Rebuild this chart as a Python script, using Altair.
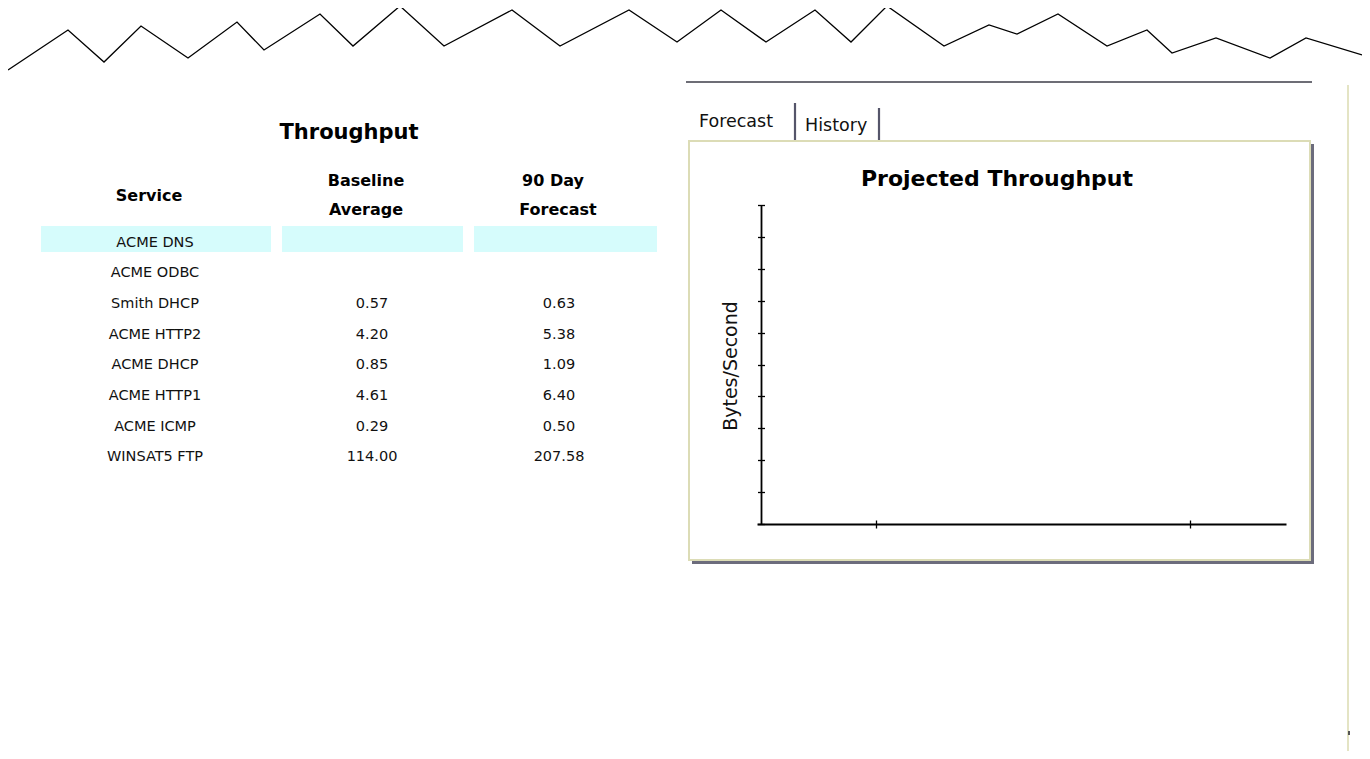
import altair as alt
import pandas as pd

# ---------------- data ----------------
services = ["ACME DNS", "ACME ODBC", "Smith DHCP", "ACME HTTP2",
            "ACME DHCP", "ACME HTTP1", "ACME ICMP", "WINSAT5 FTP"]
baseline = ["", "", "0.57", "4.20", "0.85", "4.61", "0.29", "114.00"]
forecast = ["", "", "0.63", "5.38", "1.09", "6.40", "0.50", "207.58"]
highlighted = ["ACME DNS"]

# decorative zig-zag banner (page coordinates)
zig_x = [8, 68, 104, 141, 188, 237, 264, 320, 353, 400, 444, 512, 560, 629, 677,
         721, 766, 815, 851, 887, 944, 989, 1017, 1058, 1107, 1147, 1172, 1216,
         1270, 1306, 1362]
zig_y = [70, 30, 62, 26, 58, 22, 50, 14, 46, 6, 46, 10, 46, 10, 42,
         10, 42, 10, 42, 6, 46, 25, 34, 14, 46, 30, 53, 38,
         58, 38, 55]

# empty "Projected Throughput" chart: tick values only
y_ticks = list(range(11))
x_ticks = [0.225, 0.8185]

# ---------------- layout ----------------
OX, OY = 8, 8
W, H = 1354, 743
FONT = "DejaVu Sans"


def px(x):
    return x - OX


def py(y):
    return y - OY


one = pd.DataFrame({"k": [0]})


def label(txt, x, y, size, weight="normal", align="center", angle=0, color="#000"):
    kw = dict(font=FONT, fontSize=size, fontWeight=weight, align=align,
              baseline="middle", color=color, text=txt)
    if angle:
        kw["angle"] = angle
    return alt.Chart(one).mark_text(**kw).encode(x=alt.value(px(x)), y=alt.value(py(y)))


def hline(x1, x2, y, color, w):
    return alt.Chart(one).mark_rule(color=color, strokeWidth=w).encode(
        x=alt.value(px(x1)), x2=alt.value(px(x2)), y=alt.value(py(y)))


def vline(x, y1, y2, color, w):
    return alt.Chart(one).mark_rule(color=color, strokeWidth=w).encode(
        x=alt.value(px(x)), y=alt.value(py(y1)), y2=alt.value(py(y2)))


def box(x1, y1, x2, y2, fill, stroke=None, sw=0):
    kw = dict(color=fill)
    if stroke:
        kw.update(stroke=stroke, strokeWidth=sw)
    return alt.Chart(one).mark_rect(**kw).encode(
        x=alt.value(px(x1)), x2=alt.value(px(x2)),
        y=alt.value(py(y1)), y2=alt.value(py(y2)))


# zig-zag banner
zig = pd.DataFrame({"x": zig_x, "y": zig_y, "i": list(range(len(zig_x)))})
zig_layer = alt.Chart(zig).mark_line(color="#000", strokeWidth=1.3).encode(
    x=alt.X("x:Q", scale=alt.Scale(domain=[OX, OX + W], range=[0, W], nice=False, zero=False), axis=None),
    y=alt.Y("y:Q", scale=alt.Scale(domain=[OY, OY + H], range=[0, H], nice=False, zero=False), axis=None),
    order="i:O",
)

# table
table = pd.DataFrame({"service": services, "baseline": baseline, "forecast": forecast})
row_top = py(226)
row_scale = alt.Scale(domain=services, range=[row_top, row_top + 7 * 31.3 + 26],
                      paddingInner=0.17, paddingOuter=0)


def hl_rect(x1, x2):
    return alt.Chart(table).transform_filter(
        alt.FieldOneOfPredicate(field="service", oneOf=highlighted)
    ).mark_rect(color="#d6fcfc").encode(
        x=alt.value(px(x1)), x2=alt.value(px(x2)),
        y=alt.Y("service:N", scale=row_scale, axis=None),
    )


def col_text(field, xc):
    return alt.Chart(table).mark_text(font=FONT, fontSize=14.5, color="#111", dy=1.5).encode(
        x=alt.value(px(xc)),
        y=alt.Y("service:N", scale=row_scale, axis=None),
        text=f"{field}:N",
    )


# inner (empty) chart with its own scales and axes
inner = pd.DataFrame({"t": [0.0], "v": [0.0]})
xs = alt.Scale(domain=[0, 1], range=[px(757), px(1286)], nice=False, zero=False)
ys = alt.Scale(domain=[0, 10], range=[py(524), py(205)], nice=False, zero=False)

ticks_layer = alt.Chart(inner).mark_point(opacity=0).encode(
    x=alt.X("t:Q", scale=xs, axis=alt.Axis(
        orient="bottom", offset=py(524) - 4 - H, values=x_ticks, tickSize=8,
        domain=False, labels=False, grid=False, title=None, zindex=2,
        tickColor="#000", tickWidth=1.3)),
    y=alt.Y("v:Q", scale=ys, axis=alt.Axis(
        orient="left", offset=-(px(761) + 3.5), values=y_ticks, tickSize=7,
        domain=False, labels=False, grid=False, title=None, zindex=2,
        tickColor="#000", tickWidth=1.3)),
)
domain_layer = alt.Chart(inner).mark_point(opacity=0).encode(
    x=alt.X("t:Q", scale=xs, axis=alt.Axis(
        orient="bottom", offset=py(524) - H, ticks=False,
        domain=True, labels=False, grid=False, title=None, zindex=2,
        domainColor="#000", domainWidth=2)),
    y=alt.Y("v:Q", scale=ys, axis=alt.Axis(
        orient="left", offset=-px(761), ticks=False,
        domain=True, labels=False, grid=False, title=None, zindex=2,
        domainColor="#000", domainWidth=1.8)),
)

layers = [
    zig_layer,
    hl_rect(41, 271), hl_rect(282, 463), hl_rect(474, 657),
    label("Throughput", 349, 133, 21, "bold"),
    label("Service", 149, 196, 16, "bold"),
    label("Baseline", 366, 181, 16, "bold"),
    label("Average", 366, 210, 16, "bold"),
    label("90 Day", 553, 181, 16, "bold"),
    label("Forecast", 558, 210, 16, "bold"),
    col_text("service", 155), col_text("baseline", 372), col_text("forecast", 559),
    # right side frame
    hline(686, 1312, 82, "#3c3c48", 1.6),
    label("Forecast", 699, 122, 17.5, align="left", color="#111"),
    label("History", 805, 126, 17.5, align="left", color="#111"),
    vline(795, 103, 140, "#55556a", 2.2),
    vline(879, 108, 140, "#55556a", 2.2),
    box(692, 144, 1314, 564, "#6c6c7c"),
    box(689, 141, 1310, 560, "#ffffff", "#dcdcb6", 2),
    vline(1348, 85, 751, "#e4e4c4", 2),
    vline(1349, 731, 735, "#555555", 2),
    label("Projected Throughput", 997, 179, 22, "bold"),
    label("Bytes/Second", 731, 366, 19, angle=270, color="#111"),
    ticks_layer,
    domain_layer,
]

chart = alt.layer(*layers).resolve_scale(
    x="independent", y="independent"
).properties(
    width=W, height=H, padding=0, autosize=alt.AutoSizeParams(type="none"),
    background="#ffffff",
).configure_view(strokeWidth=0)

chart.save("out.html", embed_options={"renderer": "svg", "actions": False})
